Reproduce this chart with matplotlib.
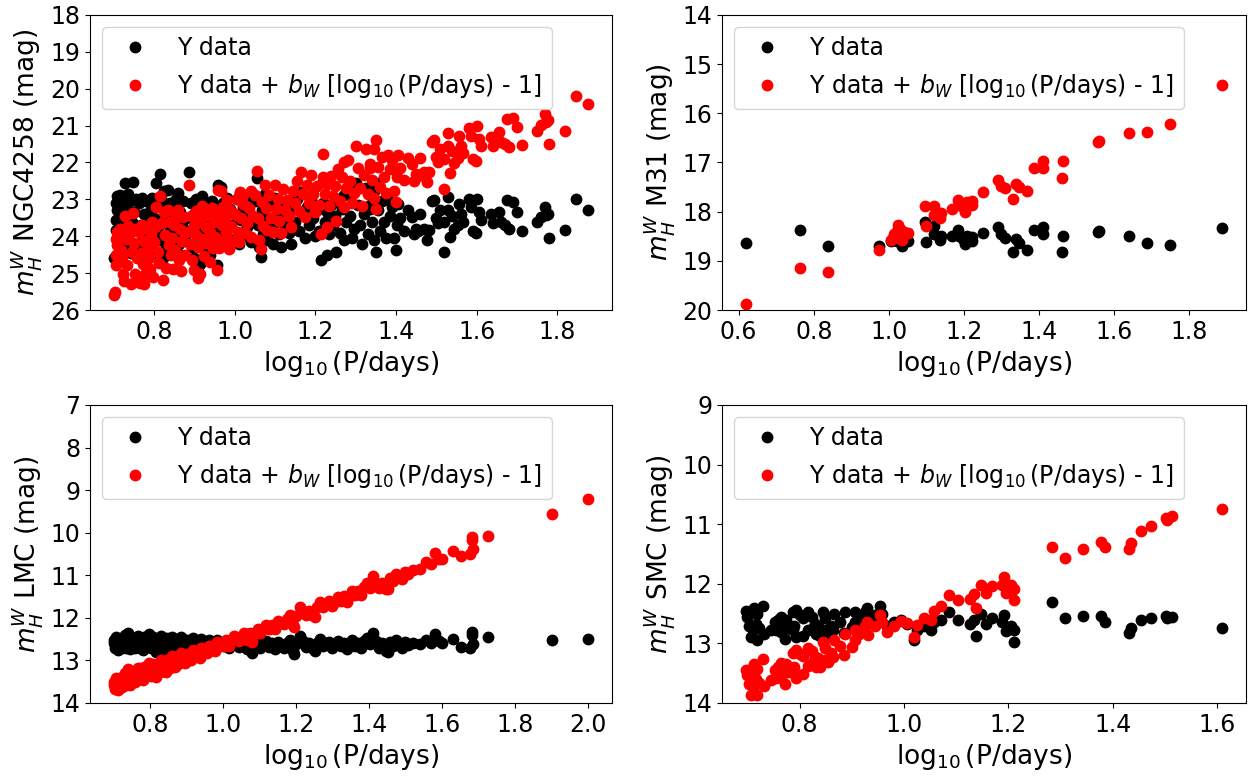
import matplotlib
matplotlib.use("Agg")
import matplotlib.pyplot as plt
from matplotlib.ticker import MultipleLocator
import numpy as np

# slope used for the red series: Y data + b_W [log10(P/days) - 1]
B_W = -3.28

# ---------------- NGC4258 ----------------
ngc_logp = [
    0.700, 0.703, 0.705, 0.705, 0.707, 0.706, 0.707, 0.712, 0.715, 0.718, 0.720, 0.722, 0.725,
    0.727, 0.730, 0.733, 0.736, 0.740, 0.742, 0.745, 0.748, 0.750, 0.752, 0.755, 0.758,
    0.762, 0.765, 0.768, 0.770, 0.772, 0.775, 0.776, 0.778, 0.780, 0.785, 0.788, 0.790, 0.792,
    0.795, 0.798, 0.800, 0.803, 0.806, 0.810, 0.812, 0.815, 0.820, 0.822, 0.825, 0.828, 0.830,
    0.835, 0.838, 0.840, 0.842, 0.845, 0.848, 0.850,
    0.852, 0.855, 0.859, 0.862, 0.865, 0.868, 0.870, 0.873, 0.876, 0.880, 0.887, 0.890, 0.892,
    0.895, 0.898, 0.900, 0.903, 0.905, 0.908, 0.910, 0.913, 0.915, 0.918, 0.920, 0.923, 0.925,
    0.928, 0.930, 0.935, 0.938, 0.940, 0.943, 0.945, 0.948, 0.950,
    0.955, 0.958, 0.960, 0.962, 0.965, 0.968, 0.970, 0.972, 0.975, 0.978, 0.980, 0.985, 0.988,
    0.990, 0.995, 1.000, 1.005, 1.008, 1.010, 1.012, 1.015, 1.020, 1.020, 1.025, 1.030, 1.035,
    1.040, 1.040, 1.045, 1.050, 1.056,
    1.058, 1.060, 1.065, 1.068, 1.070, 1.075, 1.078, 1.080, 1.085, 1.090, 1.095, 1.100, 1.103,
    1.108, 1.110, 1.115, 1.120, 1.125, 1.130, 1.135, 1.140, 1.145, 1.150,
    1.155, 1.160, 1.165, 1.170, 1.175, 1.180, 1.185, 1.190, 1.195, 1.200, 1.205, 1.210, 1.214,
    1.218, 1.220, 1.225, 1.228, 1.230, 1.235, 1.240, 1.245, 1.252, 1.250,
    1.255, 1.260, 1.265, 1.270, 1.272, 1.275, 1.280, 1.285, 1.290, 1.295, 1.300, 1.305, 1.310,
    1.315, 1.320, 1.325, 1.330, 1.335, 1.336, 1.340, 1.345, 1.346, 1.350, 1.351,
    1.355, 1.360, 1.365, 1.370, 1.375, 1.380, 1.385, 1.390, 1.395, 1.400, 1.402, 1.405, 1.410,
    1.420, 1.430, 1.440, 1.445, 1.450,
    1.455, 1.460, 1.470, 1.478, 1.483, 1.490, 1.495, 1.500, 1.505, 1.510, 1.518, 1.520, 1.528,
    1.530, 1.533, 1.540, 1.545,
    1.553, 1.557, 1.560, 1.565, 1.580, 1.585, 1.590, 1.598, 1.600, 1.606, 1.610, 1.636, 1.640,
    1.656,
    1.660, 1.670, 1.675, 1.680, 1.690, 1.700, 1.713, 1.749, 1.759, 1.769, 1.771, 1.778, 1.779,
    1.820, 1.847, 1.877,
]
ngc_mag = [
    24.60, 24.55, 23.82, 23.55, 23.28, 23.10, 22.92, 23.00, 22.87, 23.45, 23.65, 24.10, 24.30,
    22.56, 23.20, 23.90, 22.85, 23.05, 24.45, 23.60, 22.54, 23.35, 24.20, 23.00, 23.80,
    23.10, 24.50, 23.70, 22.95, 24.00, 23.40, 24.56, 24.30, 23.05, 23.60, 23.90, 24.20, 23.25,
    22.95, 24.45, 23.50, 23.10, 22.56, 23.80, 24.10, 22.31, 23.05, 24.60, 22.76, 23.40, 24.30,
    22.74, 23.70, 23.10, 24.00, 23.55, 24.40, 23.20,
    23.90, 23.00, 22.83, 24.20, 23.35, 24.50, 23.70, 23.05, 24.10, 23.50, 22.25, 23.85, 23.10,
    24.30, 23.40, 24.60, 23.00, 23.65, 24.83, 24.00, 24.74, 23.30, 22.90, 23.80, 23.15, 24.30,
    23.50, 23.95, 23.20, 24.50, 23.70, 23.05, 24.15, 23.45, 23.85,
    24.78, 22.60, 23.30, 24.20, 22.67, 23.60, 23.10, 24.00, 23.45, 23.85, 22.95, 24.30, 23.25,
    23.70, 24.10, 23.40, 23.00, 23.90, 24.20, 22.83, 23.55, 23.20, 22.95, 24.00, 23.75, 23.35,
    24.15, 22.90, 23.60, 23.05, 22.42,
    23.70, 24.30, 24.56, 23.30, 23.95, 22.85, 23.50, 24.10, 23.15, 23.80, 24.20, 22.95, 23.60,
    23.35, 23.95, 24.30, 23.10, 23.70, 23.45, 23.90, 24.20, 23.25, 23.60,
    23.00, 23.85, 22.80, 23.40, 24.05, 23.20, 23.70, 22.95, 23.50, 24.00, 23.30, 23.85, 24.64,
    23.10, 22.50, 23.60, 24.51, 23.35, 23.95, 23.15, 23.70, 24.42, 23.45,
    23.00, 23.90, 23.25, 24.10, 22.89, 23.60, 22.85, 23.45, 24.05, 23.80, 22.55, 23.15, 23.70,
    24.20, 23.40, 22.70, 23.95, 23.25, 23.14, 23.60, 24.10, 22.77, 22.55, 24.42,
    23.30, 23.85, 23.05, 23.60, 24.05, 23.03, 23.45, 23.20, 24.06, 24.37, 23.70, 23.12, 23.50,
    23.85, 23.30, 23.48, 23.95, 23.80,
    23.85, 23.40, 23.80, 24.11, 23.84, 23.05, 23.01, 23.50, 23.65, 23.30, 24.42, 23.60, 22.94,
    23.30, 24.02, 23.45, 23.80,
    23.69, 23.12, 23.39, 23.60, 22.98, 23.21, 23.85, 23.91, 22.98, 23.34, 23.55, 23.39, 23.65,
    23.33,
    23.61, 23.70, 23.03, 23.80, 23.07, 23.34, 23.87, 23.61, 23.48, 23.21, 23.42, 23.39, 24.05,
    23.84, 22.98, 23.28,
]

# ---------------- M31 ----------------
m31_logp = [
    0.619, 0.764, 0.838, 0.973, 1.007, 1.015, 1.021, 1.025, 1.030, 1.035, 1.040, 1.050,
    1.097, 1.100, 1.121, 1.121, 1.135, 1.140, 1.167, 1.183, 1.188, 1.197, 1.202, 1.207,
    1.221, 1.221, 1.250, 1.292, 1.300, 1.310, 1.330, 1.340, 1.348, 1.369, 1.386, 1.411,
    1.411, 1.461, 1.464, 1.557, 1.559, 1.640, 1.688, 1.750, 1.888,
]
m31_mag = [
    18.63, 18.37, 18.70, 18.69, 18.59, 18.50, 18.60, 18.35, 18.45, 18.69, 18.55, 18.60,
    18.20, 18.62, 18.29, 18.46, 18.58, 18.49, 18.49, 18.37, 18.49, 18.56, 18.66, 18.49,
    18.59, 18.51, 18.43, 18.32, 18.46, 18.54, 18.83, 18.56, 18.64, 18.78, 18.37, 18.32,
    18.46, 18.83, 18.49, 18.42, 18.39, 18.49, 18.63, 18.67, 18.34,
]

# ---------------- LMC ----------------
lmc_logp = [
    0.700, 0.702, 0.704, 0.706, 0.708, 0.710, 0.712, 0.714, 0.716, 0.718, 0.720, 0.722, 0.724,
    0.726, 0.728, 0.730, 0.732, 0.734, 0.736, 0.738, 0.740, 0.742, 0.744, 0.746, 0.748, 0.750,
    0.752, 0.754, 0.756, 0.758, 0.760, 0.763, 0.766, 0.769, 0.772, 0.775, 0.778, 0.781, 0.784,
    0.787, 0.790, 0.793, 0.796, 0.799,
    0.802, 0.805, 0.808, 0.811, 0.814, 0.817, 0.820, 0.823, 0.826, 0.829, 0.832, 0.835, 0.838,
    0.841, 0.844, 0.847,
    0.850, 0.853, 0.856, 0.859, 0.862, 0.865, 0.868, 0.871, 0.874, 0.877, 0.880, 0.884, 0.888,
    0.892, 0.896,
    0.900, 0.904, 0.908, 0.912, 0.916, 0.920, 0.925, 0.930, 0.935, 0.940, 0.945, 0.950, 0.955,
    0.960, 0.966, 0.972, 0.978, 0.984, 0.990, 0.996,
    1.002, 1.008, 1.015, 1.022, 1.030, 1.036, 1.042, 1.050, 1.058, 1.066, 1.074, 1.080, 1.088,
    1.095, 1.102, 1.110, 1.118, 1.126, 1.134, 1.142, 1.150, 1.158, 1.166, 1.174, 1.182, 1.190,
    1.195, 1.200,
    1.210, 1.218, 1.226, 1.234, 1.242, 1.250, 1.258, 1.266, 1.274, 1.282, 1.290, 1.298, 1.306,
    1.314, 1.322, 1.330, 1.338, 1.346, 1.354, 1.362, 1.370, 1.378, 1.386, 1.394,
    1.402, 1.410, 1.418, 1.426, 1.434, 1.445, 1.450, 1.458, 1.466, 1.474, 1.482, 1.490, 1.498,
    1.506, 1.520, 1.540, 1.555, 1.570, 1.580, 1.590, 1.600, 1.630, 1.650, 1.675, 1.680, 1.682,
    1.684, 1.725, 1.900, 2.000,
]
lmc_mag = [
    12.60, 12.52, 12.70, 12.45, 12.65, 12.58, 12.75, 12.50, 12.62, 12.68, 12.55, 12.72, 12.48,
    12.60, 12.66, 12.40, 12.57, 12.70, 12.52, 12.63, 12.35, 12.58, 12.74, 12.50, 12.65, 12.55,
    12.68, 12.47, 12.60, 12.72, 12.53, 12.64, 12.42, 12.58, 12.70, 12.50, 12.62, 12.75, 12.45,
    12.58, 12.67, 12.52, 12.38, 12.63,
    12.72, 12.55, 12.46, 12.66, 12.58, 12.80, 12.50, 12.62, 12.70, 12.43, 12.57, 12.68, 12.52,
    12.61, 12.75, 12.48,
    12.60, 12.70, 12.55, 12.44, 12.65, 12.58, 12.73, 12.50, 12.62, 12.68, 12.53, 12.45, 12.66,
    12.57, 12.72,
    12.52, 12.63, 12.58, 12.70, 12.48, 12.60, 12.66, 12.55, 12.72, 12.50, 12.62, 12.58, 12.68,
    12.53, 12.64, 12.57, 12.70, 12.51, 12.62, 12.58,
    12.66, 12.55, 12.72, 12.60, 12.52, 12.57, 12.68, 12.62, 12.55, 12.74, 12.60, 12.82, 12.66,
    12.58, 12.70, 12.63, 12.55, 12.68, 12.60, 12.73, 12.57, 12.65, 12.70, 12.60, 12.52, 12.78,
    12.86, 12.62,
    12.43, 12.55, 12.68, 12.60, 12.72, 12.79, 12.58, 12.50, 12.65, 12.60, 12.56, 12.70, 12.62,
    12.55, 12.67, 12.58, 12.73, 12.62, 12.52, 12.66, 12.58, 12.70, 12.55, 12.48,
    12.62, 12.36, 12.55, 12.70, 12.60, 12.78, 12.81, 12.56, 12.66, 12.52, 12.62, 12.70, 12.56,
    12.64, 12.58, 12.62, 12.52, 12.60, 12.37, 12.55, 12.58, 12.50, 12.69, 12.72, 12.33, 12.41,
    12.62, 12.45, 12.51, 12.49,
]

# ---------------- SMC ----------------
smc_logp = [
    0.697, 0.700, 0.706, 0.713, 0.719, 0.729, 0.703, 0.710, 0.716, 0.723, 0.706, 0.719, 0.732,
    0.745, 0.752, 0.758, 0.765, 0.768, 0.774, 0.777, 0.755, 0.765, 0.773, 0.787, 0.794, 0.800,
    0.806, 0.816, 0.823, 0.829, 0.835, 0.845, 0.848, 0.790, 0.787, 0.794, 0.806, 0.816, 0.826,
    0.832, 0.839, 0.848, 0.855, 0.861, 0.865, 0.866, 0.877, 0.885, 0.887, 0.900, 0.906, 0.906,
    0.913, 0.926, 0.929, 0.932, 0.945, 0.955, 0.958, 0.968, 0.981, 0.994, 1.006, 1.019, 1.026,
    1.039, 1.052, 1.058, 1.071, 1.087, 1.103, 1.126, 1.139, 1.135, 1.148, 1.158, 1.168, 1.188,
    1.191, 1.195, 1.205, 1.211, 1.211, 1.284, 1.308, 1.343, 1.378, 1.385, 1.432, 1.436, 1.455,
    1.474, 1.502, 1.505, 1.513, 1.610,
]
smc_mag = [
    12.46, 12.55, 12.47, 12.41, 12.50, 12.38, 12.70, 12.78, 12.67, 12.75, 12.90, 12.95, 12.84,
    12.78, 12.64, 12.61, 12.55, 12.64, 12.61, 12.75, 12.78, 12.81, 12.93, 12.47, 12.44, 12.53,
    12.58, 12.47, 12.55, 12.67, 12.70, 12.47, 12.58, 12.70, 12.78, 12.90, 12.87, 12.78, 12.75,
    12.84, 12.87, 12.78, 12.84, 12.70, 12.78, 12.51, 12.64, 12.82, 12.47, 12.73, 12.47, 12.64,
    12.55, 12.47, 12.41, 12.64, 12.53, 12.38, 12.50, 12.70, 12.64, 12.61, 12.67, 12.95, 12.78,
    12.70, 12.78, 12.64, 12.61, 12.47, 12.61, 12.67, 12.87, 12.61, 12.50, 12.67, 12.58, 12.64,
    12.52, 12.80, 12.70, 12.78, 12.97, 12.31, 12.58, 12.54, 12.54, 12.64, 12.83, 12.74, 12.61,
    12.58, 12.54, 12.58, 12.55, 12.74,
]

panels = [
    ("NGC4258", ngc_logp, ngc_mag, (26, 18), [0.0717, 0.6005, 0.4160, 0.3802]),
    ("M31", m31_logp, m31_mag, (20, 14), [0.5753, 0.6005, 0.4175, 0.3802]),
    ("LMC", lmc_logp, lmc_mag, (14, 7), [0.0717, 0.0941, 0.4160, 0.3840]),
    ("SMC", smc_logp, smc_mag, (14, 9), [0.5753, 0.0941, 0.4175, 0.3840]),
]

fig = plt.figure(figsize=(12.55, 7.76), dpi=100)

for name, logp, mag, ylim, pos in panels:
    ax = fig.add_axes(pos)
    logp = np.array(logp)
    mag = np.array(mag)
    ax.plot(logp, mag, "o", color="k", ms=7.5, label="Y data")
    ax.plot(logp, mag + B_W * (logp - 1), "o", color="r", ms=7.5,
            label=r"Y data + $b_W$ [$\log_{10}$(P/days) - 1]")
    ax.set_ylim(*ylim)
    ax.set_yticks(np.arange(ylim[1], ylim[0] + 1, 1))
    ax.xaxis.set_major_locator(MultipleLocator(0.2))
    ax.tick_params(labelsize=17)
    ax.set_xlabel(r"$\log_{10}$(P/days)", fontsize=19)
    ax.set_ylabel(r"$m_H^W$ " + name + " (mag)", fontsize=19)
    ax.legend(loc="upper left", fontsize=17)

fig.savefig("out.png", dpi=100)
